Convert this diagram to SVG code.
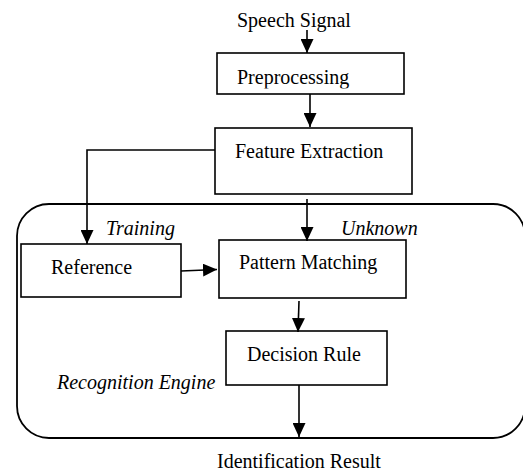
<svg xmlns="http://www.w3.org/2000/svg" width="523" height="472" viewBox="0 0 523 472">
<style>
text{font-family:"Liberation Serif","Times New Roman",serif;font-size:20px;fill:#000}
.it{font-style:italic}
.box{fill:#fff;stroke:#000;stroke-width:1.6}
.c{fill:none;stroke:#000;stroke-width:1.6}
</style>
<defs>
<marker id="ah" markerUnits="userSpaceOnUse" markerWidth="14" markerHeight="13" refX="14" refY="6.5" orient="auto">
<path d="M0,0 L14,6.5 L0,13 z" fill="#000"/>
</marker>
<clipPath id="ppclip"><rect x="218" y="54" width="185" height="34.5"/></clipPath>
</defs>
<rect width="523" height="472" fill="#fff"/>
<g id="engine">
<rect x="17" y="204" width="508" height="234" rx="32" ry="32" fill="none" stroke="#000" stroke-width="1.8"/>
<text class="it" x="57" y="389">Recognition Engine</text>
</g>
<g id="speech-signal"><text x="237" y="27">Speech Signal</text></g>
<g id="preprocessing">
<rect class="box" x="217" y="53" width="187" height="41"/>
<text x="237" y="83.5" clip-path="url(#ppclip)">Preprocessing</text>
</g>
<g id="feature-extraction">
<rect class="box" x="215" y="128" width="197" height="66"/>
<text x="235" y="158">Feature Extraction</text>
</g>
<g id="reference">
<rect class="box" x="21" y="244" width="160" height="53"/>
<text x="51" y="274">Reference</text>
</g>
<g id="pattern-matching">
<rect class="box" x="219" y="240" width="187" height="58"/>
<text x="239" y="269">Pattern Matching</text>
</g>
<g id="decision-rule">
<rect class="box" x="226" y="331" width="161" height="54"/>
<text x="247" y="361">Decision Rule</text>
</g>
<g id="identification-result"><text x="217" y="468">Identification Result</text></g>
<g id="connectors">
<line class="c" x1="307" y1="30" x2="307" y2="53" marker-end="url(#ah)"/>
<line class="c" x1="310" y1="94" x2="310" y2="127" marker-end="url(#ah)"/>
<polyline class="c" points="215,150 87,150 87,244" marker-end="url(#ah)"/>
<line class="c" x1="307" y1="199" x2="307" y2="241" marker-end="url(#ah)"/>
<line class="c" x1="181" y1="271" x2="217" y2="269.5" marker-end="url(#ah)"/>
<line class="c" x1="299" y1="301" x2="298" y2="332" marker-end="url(#ah)"/>
<line class="c" x1="299" y1="385" x2="299" y2="437" marker-end="url(#ah)"/>
<text class="it" x="106" y="235">Training</text>
<text class="it" x="341" y="235">Unknown</text>
</g>
</svg>
